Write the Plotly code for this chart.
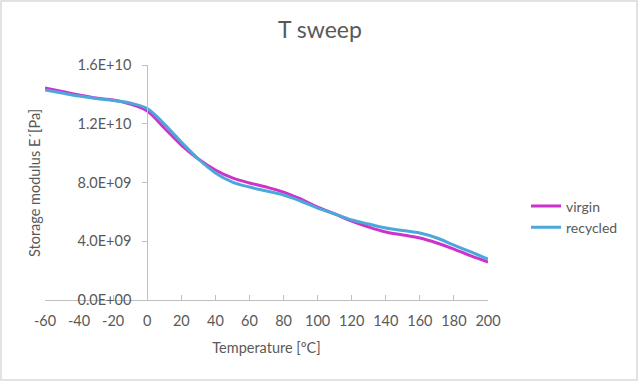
import plotly.graph_objects as go

temperature = [-60, -50, -40, -30, -20, -10, 0, 10, 20, 30, 40, 50, 60, 70, 80,
               90, 100, 110, 120, 130, 140, 150, 160, 170, 180, 190, 200]
virgin = [1.443e10, 1.420e10, 1.396e10, 1.375e10, 1.362e10, 1.334e10, 1.287e10,
          1.171e10, 1.055e10, 9.60e9, 8.85e9, 8.31e9, 7.97e9, 7.69e9, 7.35e9,
          6.88e9, 6.33e9, 5.86e9, 5.38e9, 4.97e9, 4.63e9, 4.43e9, 4.22e9,
          3.88e9, 3.47e9, 3.00e9, 2.59e9]
recycled = [1.430e10, 1.409e10, 1.389e10, 1.372e10, 1.358e10, 1.341e10, 1.304e10,
            1.198e10, 1.076e10, 9.60e9, 8.65e9, 8.03e9, 7.69e9, 7.42e9, 7.15e9,
            6.74e9, 6.26e9, 5.86e9, 5.45e9, 5.17e9, 4.90e9, 4.73e9, 4.56e9,
            4.22e9, 3.74e9, 3.27e9, 2.79e9]
y_tickvals = [0, 4e9, 8e9, 1.2e10, 1.6e10]
y_ticktext = ["0.0E+00", "4.0E+09", "8.0E+09", "1.2E+10", "1.6E+10"]
x_tickvals = [-60, -40, -20, 0, 20, 40, 60, 80, 100, 120, 140, 160, 180, 200]
x_ticktext = ["-60", "-40", "-20", "0", "20", "40", "60", "80", "100", "120",
              "140", "160", "180", "200"]

FONT = "Lato"
TXT = "#595959"
AX = "#BFBFBF"

fig = go.Figure()
fig.add_trace(go.Scatter(x=temperature, y=virgin, mode="lines", name="virgin",
                         line=dict(color="#CC33CC", width=3, shape="spline")))
fig.add_trace(go.Scatter(x=temperature, y=recycled, mode="lines", name="recycled",
                         line=dict(color="#4DA8DA", width=3, shape="spline")))

L, R, T, B = 45, 152, 65, 82
W, H = 640, 382
pw, ph = W - L - R, H - T - B

def px(xp):
    return (xp - L) / pw

def py(yp):
    return (H - B - yp) / ph

fig.update_layout(
    width=W, height=H,
    margin=dict(l=L, r=R, t=T, b=B, autoexpand=False),
    paper_bgcolor="white", plot_bgcolor="white",
    font=dict(family=FONT, color=TXT, size=13),
    title=dict(text="T sweep", x=0.5, xref="container", xanchor="center",
               y=1 - 30 / H, yanchor="middle",
               font=dict(size=23, color=TXT, family=FONT)),
    showlegend=True,
    legend=dict(x=px(526), y=py(217), xanchor="left", yanchor="middle",
                font=dict(size=14, color=TXT, family=FONT),
                bgcolor="rgba(0,0,0,0)", itemwidth=30, tracegroupgap=0),
    xaxis=dict(range=[-60, 200], tickvals=x_tickvals, ticktext=x_ticktext,
               showgrid=False, automargin=False,
               zeroline=False, showline=True, linecolor=AX, linewidth=1,
               ticks="inside", ticklen=5, tickcolor=AX,
               ticklabelstandoff=8,
               tickfont=dict(size=14.5, color=TXT),
               title=dict(text="Temperature [ºC]", standoff=14,
                          font=dict(size=14.5, color=TXT))),
    yaxis=dict(range=[0, 1.6e10], tickvals=y_tickvals, ticktext=y_ticktext,
               showgrid=False, zeroline=False, showline=True, linecolor=AX,
               automargin=False,
               linewidth=1, ticks="outside", ticklen=5, tickcolor=AX,
               anchor="free", position=60 / 260, ticklabelstandoff=8,
               tickfont=dict(size=14.5, color=TXT)),
    annotations=[dict(text="Storage modulus E´[Pa]", x=px(34), y=py(183),
                      xref="paper", yref="paper", textangle=-90,
                      showarrow=False, xanchor="center", yanchor="middle",
                      font=dict(size=14.5, color=TXT, family=FONT))],
    shapes=[dict(type="rect", xref="paper", yref="paper",
                 x0=px(1), x1=px(637), y0=py(380), y1=py(1),
                 line=dict(color="#D9D9D9", width=1.5), layer="below")],
)

fig.write_html("out.html",
               config={"displayModeBar": False},
               post_script="document.body.style.margin='0';document.body.style.padding='0';")
